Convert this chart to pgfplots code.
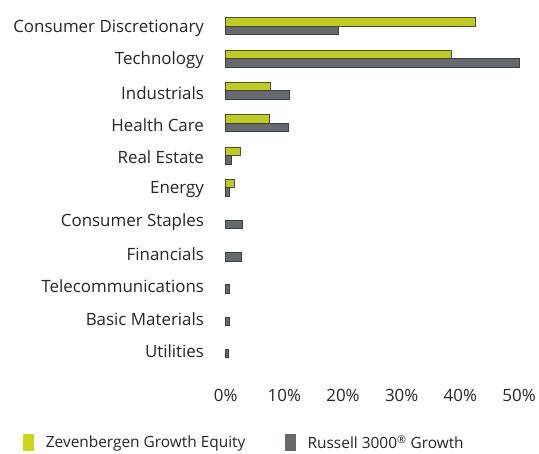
\documentclass[border=0pt]{standalone}
\usepackage{pgfplots}
\pgfplotsset{compat=1.18}
\usepackage{fontspec}
\setmainfont{Open Sans}
\definecolor{zgreen}{HTML}{BFCC1E}
\definecolor{rgray}{HTML}{646A6E}
\begin{document}
\begin{tikzpicture}
\begin{axis}[
  scale only axis,
  clip=false,
  width=295pt, height=371pt,
  xbar,
  xmin=0, xmax=50,
  ymin=-0.92, ymax=10.5,
  axis line style={draw=none},
  xtick={0,10,20,30,40,50},
  xticklabel={\pgfmathprintnumber{\tick}\%},
  ytick={0,...,10},
  yticklabels={Utilities,Basic Materials,Telecommunications,Financials,Consumer Staples,Energy,Real Estate,Health Care,Industrials,Technology,Consumer Discretionary},
  tick style={draw=none},
  /pgf/number format/assume math mode=true,
  every tick label/.append style={font=\fontsize{17}{20}\selectfont, text=black!85},
  yticklabel style={xshift=-14pt, yshift=-2pt},
  xticklabel style={yshift=-7pt},
  bar width=8.5pt,
  legend style={draw=none, at={(rel axis cs:-0.70,-0.172)}, anchor=west, legend columns=2,
    font=\fontsize{15.5}{18}\selectfont, text=black!85,
    /tikz/every odd column/.append style={column sep=10pt},
    /tikz/every even column/.append style={column sep=38pt}},
]
\addplot+[bar shift=4.3pt, fill=zgreen, draw=black!70, line width=0.6pt, legend image code/.code={\fill[zgreen!80!yellow] (0pt,-8pt) rectangle (10pt,8pt);}] coordinates {
 (42.5,10) (38.4,9) (7.6,8) (7.5,7) (2.5,6) (1.5,5)};
\addplot+[bar shift=-4.3pt, fill=rgray, draw=black!75, line width=0.6pt, legend image code/.code={\fill[rgray] (0pt,-8pt) rectangle (10pt,8pt);}] coordinates {
 (19.2,10) (50.0,9) (10.8,8) (10.7,7) (0.95,6) (0.7,5) (2.8,4) (2.7,3) (0.7,2) (0.7,1) (0.45,0)};
\legend{Zevenbergen Growth Equity, Russell 3000\textsuperscript{\textregistered} Growth}
\path (rel axis cs:-0.769,-0.186) rectangle (rel axis cs:1.058,1.027);
\end{axis}
\end{tikzpicture}
\end{document}
